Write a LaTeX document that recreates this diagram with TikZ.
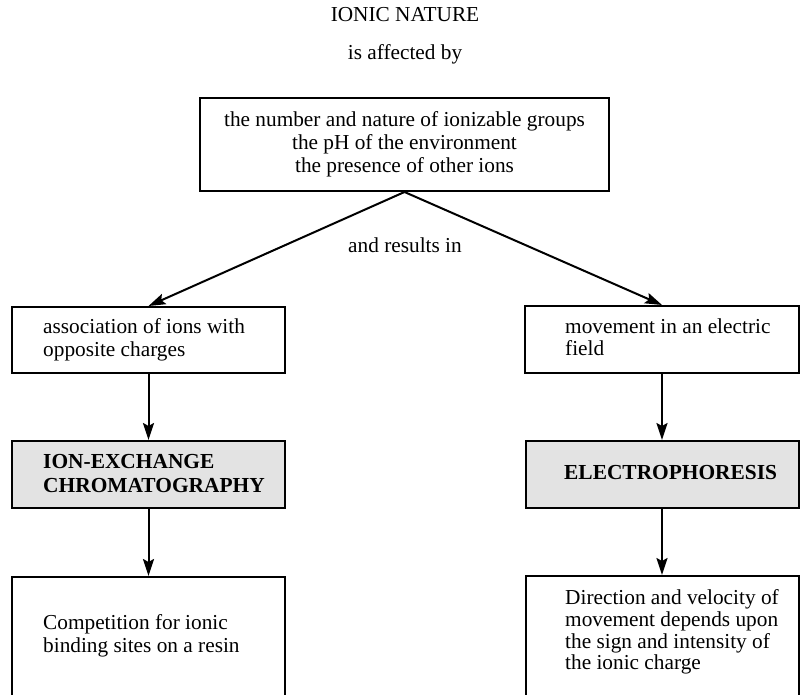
\documentclass[tikz,border=0pt]{standalone}
\usepackage{fontspec}
\setmainfont{Liberation Serif}
\usetikzlibrary{arrows.meta}
\begin{document}
\begin{tikzpicture}[x=1pt,y=1pt,
  every node/.style={font=\fontsize{21.3}{22.5}\selectfont},
  box/.style={draw, line width=2pt, rectangle, inner sep=0pt},
  hbox/.style={box, fill=black!11},
  txt/.style={anchor=west, inner sep=0pt, align=left},
  conn/.style={line width=2pt, -{Stealth[length=17pt,width=11pt,inset=3pt]}}]
\useasboundingbox (0,0) rectangle (801,-695);
\clip (0,0) rectangle (801,-695);
% titles
\node[inner sep=0pt, anchor=base] (title) at (405,-22) {IONIC NATURE};
\node[inner sep=0pt, anchor=base] (aff) at (405,-60) {is affected by};
% top box
\node[box, minimum width=409pt, minimum height=93pt, align=center,
  font=\fontsize{21.3}{23}\selectfont] (top) at (404.5,-144.5)
  {the number and nature of ionizable groups\\the pH of the environment\\the presence of other ions};
\node[inner sep=0pt, anchor=base] (res) at (405,-253) {and results in};
% second row
\node[box, minimum width=273pt, minimum height=66pt] (lb1) at (148.5,-340) {};
\node[box, minimum width=274pt, minimum height=67pt] (rb1) at (662,-339.5) {};
\node[txt] (lt1) at (43,-340) {association of ions with\\opposite charges};
\node[txt] (rt1) at (565,-337) {movement in an electric\\field};
% third row
\node[hbox, minimum width=273pt, minimum height=67pt] (lb2) at (148.5,-474.5) {};
\node[hbox, minimum width=273pt, minimum height=67pt] (rb2) at (662,-474.5) {};
\node[txt, font=\fontsize{21.4}{24}\selectfont\bfseries] (lt2) at (43,-474) {ION-EXCHANGE\\CHROMATOGRAPHY};
\node[txt, font=\fontsize{21.4}{24}\selectfont\bfseries] (rt2) at (564,-473) {ELECTROPHORESIS};
% fourth row
\node[box, minimum width=273pt, minimum height=143pt] (lb3) at (148.5,-648.5) {};
\node[box, minimum width=273pt, minimum height=144pt] (rb3) at (662,-648) {};
\node[txt] (lt3) at (43,-636) {Competition for ionic\\binding sites on a resin};
\node[txt, font=\fontsize{21.3}{21.7}\selectfont] (rt3) at (565,-632) {Direction and velocity of\\movement depends upon\\the sign and intensity of\\the ionic charge};
% connectors
\draw[conn] (top.south) -- (lb1.north);
\draw[conn] (top.south) -- (rb1.north);
\draw[conn] (lb1.south) -- (lb2.north);
\draw[conn] (rb1.south) -- (rb2.north);
\draw[conn] (lb2.south) -- (lb3.north);
\draw[conn] (rb2.south) -- (rb3.north);
\end{tikzpicture}
\end{document}
